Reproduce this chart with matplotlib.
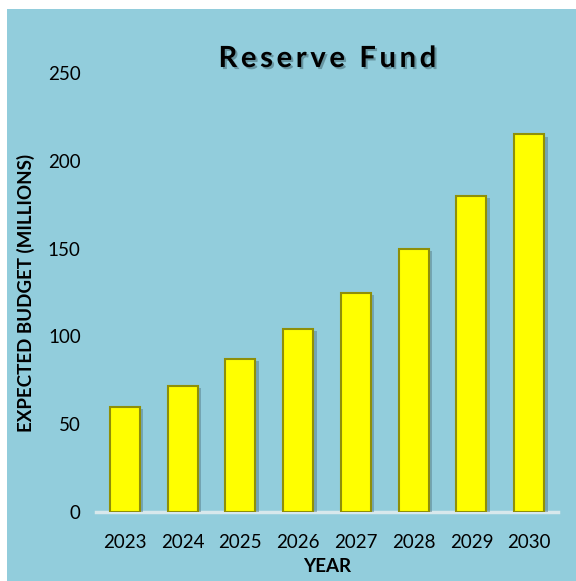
import matplotlib
matplotlib.use("Agg")
import matplotlib.pyplot as plt
import matplotlib.patheffects as pe
from matplotlib.patches import Rectangle

# Chart data
years = ["2023", "2024", "2025", "2026", "2027", "2028", "2029", "2030"]
budget = [60, 72, 87, 104, 125, 150, 180, 215]
y_ticks = [0, 50, 100, 150, 200, 250]

BG = "#92CDDC"
plt.rcParams["font.family"] = ["Lato", "DejaVu Sans"]

fig = plt.figure(figsize=(5.76, 5.81), dpi=100)
fig.patch.set_facecolor("white")

# light blue chart area, with a white strip left and top
fig.patches.append(Rectangle((7 / 576, 0), 1, 1 - 9 / 581, transform=fig.transFigure,
                             facecolor=BG, edgecolor="none", zorder=-10))

ax = fig.add_axes([96 / 576, 1 - 512 / 581, 462 / 576, 439 / 581])
ax.set_facecolor("none")

x = range(len(years))
bars = ax.bar(x, budget, width=0.52, color="#FFFF00", edgecolor="#8f8f08",
              linewidth=1.5, zorder=3)
for b in bars:
    b.set_path_effects([pe.SimplePatchShadow(offset=(2.5, -1.5), shadow_rgbFace="#4f7480", alpha=0.45),
                        pe.Normal()])

ax.set_xlim(-0.5, len(years) - 0.5)
ax.set_ylim(0, 250)
ax.set_xticks(list(x))
ax.set_xticklabels(years, fontsize=13.5)
ax.set_yticks(y_ticks)
ax.set_yticklabels([str(t) for t in y_ticks], fontsize=13.5)
ax.tick_params(axis="both", length=0)
ax.tick_params(axis="x", pad=16)
ax.tick_params(axis="y", pad=11)

for s in ["top", "right", "left"]:
    ax.spines[s].set_visible(False)
ax.spines["bottom"].set_color("#d8e8ec")
ax.spines["bottom"].set_linewidth(2.5)
ax.spines["bottom"].set_zorder(2)

ax.set_xlabel("YEAR", fontsize=13.5, fontweight="bold", labelpad=5)
ax.set_ylabel("EXPECTED BUDGET (MILLIONS)", fontsize=13.5, fontweight="bold", labelpad=9)

# spaced-out title, thin spaces between the letters
title_txt = "\u2009".join("Reserve Fund")
title = fig.text(327 / 576, 1 - 59 / 581, title_txt, ha="center", va="center",
                 fontsize=21, fontweight="bold", color="black")
title.set_path_effects([pe.withSimplePatchShadow(offset=(1.5, -1.5), shadow_rgbFace="#3d5f68", alpha=0.5)])

fig.savefig("out.png", dpi=100)
